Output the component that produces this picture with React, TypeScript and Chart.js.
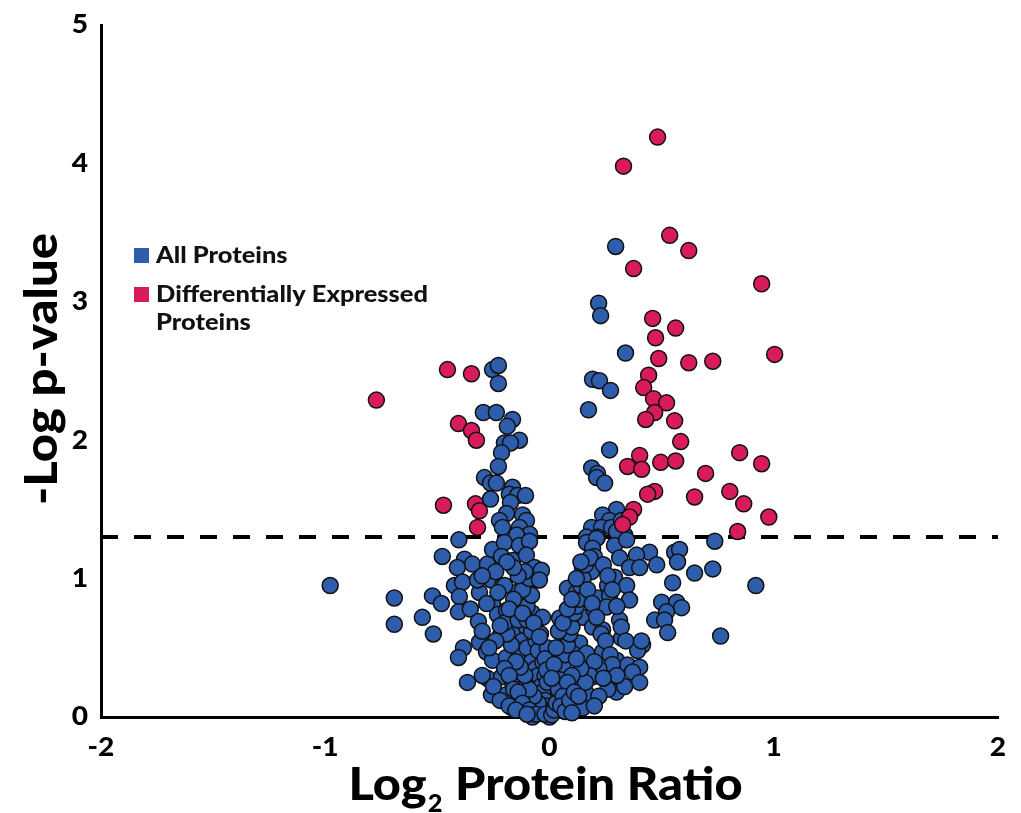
import { useEffect, useRef } from "react";
import { Chart, registerables } from "chart.js";

Chart.register(...registerables);

type Pt = [number, number];

// ---- axis / labels ----
const X_TICKS = [-2, -1, 0, 1, 2];
const Y_TICKS = [0, 1, 2, 3, 4, 5];
const THRESHOLD = 1.3;
const X_TITLE = ["Log", "2", " Protein Ratio"];
const Y_TITLE = "-Log p-value";
const LEGEND_LABELS = [["All Proteins"], ["Differentially Expressed", "Proteins"]];

// ---- differentially expressed proteins (log2 ratio, -log p) ----
const DE_LEFT: Pt[] = [
  [-0.772, 2.29], [-0.455, 2.51], [-0.348, 2.48], [-0.406, 2.12], [-0.348, 2.07],
  [-0.326, 2.0], [-0.473, 1.53], [-0.33, 1.54], [-0.3125, 1.49], [-0.321, 1.37],
];
const DE_RIGHT: Pt[] = [
  [0.482, 4.19], [0.33, 3.98], [0.536, 3.48], [0.621, 3.37], [0.375, 3.24], [0.946, 3.13],
  [0.46, 2.88], [0.5625, 2.81], [0.473, 2.74], [0.487, 2.59], [0.621, 2.56], [0.728, 2.57],
  [1.004, 2.62], [0.442, 2.47], [0.42, 2.38], [0.464, 2.3], [0.522, 2.27], [0.469, 2.2],
  [0.429, 2.15], [0.558, 2.14], [0.585, 1.99], [0.402, 1.89], [0.348, 1.81], [0.411, 1.79],
  [0.496, 1.84], [0.5625, 1.85], [0.696, 1.76], [0.848, 1.91], [0.946, 1.83], [0.469, 1.63],
  [0.4375, 1.61], [0.647, 1.59], [0.804, 1.63], [0.866, 1.54], [0.978, 1.445], [0.839, 1.34],
  [0.375, 1.5], [0.357, 1.445], [0.326, 1.39],
];

// ---- all proteins ----
const ALL_UPPER_RIGHT: Pt[] = [
  [0.295, 3.4], [0.219, 2.99], [0.228, 2.9], [0.339, 2.63], [0.192, 2.44], [0.223, 2.43],
  [0.272, 2.36], [0.174, 2.22], [0.268, 1.93], [0.188, 1.8], [0.214, 1.76], [0.21, 1.73],
  [0.246, 1.69], [0.299, 1.5], [0.237, 1.46], [0.268, 1.42], [0.188, 1.37], [0.232, 1.37],
  [0.277, 1.37], [0.321, 1.42], [0.165, 1.3], [0.214, 1.3], [0.335, 1.315], [0.299, 1.34],
  [0.737, 1.27],
];
const ALL_UPPER_LEFT: Pt[] = [
  [-0.254, 2.51], [-0.228, 2.54], [-0.228, 2.41], [-0.295, 2.2], [-0.237, 2.2], [-0.165, 2.15],
  [-0.188, 2.1], [-0.134, 2.0], [-0.201, 1.98], [-0.174, 1.98], [-0.214, 1.91], [-0.228, 1.81],
  [-0.29, 1.73], [-0.263, 1.69], [-0.237, 1.69], [-0.165, 1.66], [-0.179, 1.61], [-0.143, 1.6],
  [-0.107, 1.6], [-0.263, 1.575], [-0.174, 1.55], [-0.192, 1.47], [-0.12, 1.46], [-0.103, 1.42],
  [-0.223, 1.42], [-0.21, 1.37], [-0.134, 1.37], [-0.089, 1.32], [-0.404, 1.28], [-0.147, 1.315],
];
const ALL_LOWER_LEFT: Pt[] = [
  [-0.478, 1.16], [-0.379, 1.14], [-0.344, 1.105], [-0.277, 1.105], [-0.411, 1.08], [-0.254, 1.21],
  [-0.201, 1.26], [-0.134, 1.24], [-0.089, 1.27], [-0.214, 1.16], [-0.165, 1.13], [-0.103, 1.17],
  [-0.067, 1.08], [-0.058, 0.99], [-0.978, 0.95], [-0.692, 0.86], [-0.692, 0.67], [-0.522, 0.875],
  [-0.482, 0.82], [-0.567, 0.72], [-0.518, 0.6], [-0.424, 0.95], [-0.388, 0.975], [-0.402, 0.87],
  [-0.406, 0.76], [-0.353, 0.78], [-0.3125, 0.9], [-0.321, 0.99], [-0.259, 0.99], [-0.21, 0.95],
  [-0.147, 0.9], [-0.254, 0.82], [-0.317, 0.69], [-0.232, 0.74], [-0.192, 0.77], [-0.134, 0.76],
  [-0.076, 0.75], [-0.031, 0.72], [-0.384, 0.5], [-0.406, 0.43], [-0.3125, 0.54], [-0.281, 0.47],
  [-0.223, 0.58], [-0.165, 0.63], [-0.103, 0.65], [-0.058, 0.63], [-0.254, 0.41], [-0.192, 0.43],
  [-0.134, 0.46], [-0.076, 0.45], [-0.013, 0.43], [-0.277, 0.28], [-0.214, 0.29], [-0.165, 0.25],
  [-0.103, 0.25], [-0.366, 0.25], [-0.259, 0.16], [-0.192, 0.16], [-0.134, 0.12], [-0.076, 0.1],
  [-0.17, 0.07], [-0.134, 0.05], [-0.045, 0.03], [0.0, 0.0], [-0.076, 0.0],
];
const ALL_CORE_LEFT: Pt[] = [
  [-0.12, 0.55], [-0.1, 0.5], [-0.08, 0.4], [-0.06, 0.35], [-0.05, 0.3], [-0.04, 0.22],
  [-0.03, 0.18], [-0.02, 0.12], [-0.01, 0.08], [-0.03, 0.05], [-0.05, 0.1], [-0.07, 0.15],
  [-0.09, 0.2], [-0.11, 0.3], [-0.13, 0.36], [-0.15, 0.4], [-0.17, 0.52], [-0.19, 0.6],
  [-0.2, 0.68], [-0.14, 0.7], [-0.1, 0.8], [-0.08, 0.88], [-0.12, 0.92], [-0.16, 0.85],
  [-0.18, 0.78], [-0.22, 0.66], [-0.24, 0.55], [-0.27, 0.5], [-0.2, 0.35], [-0.18, 0.3],
  [-0.16, 0.2], [-0.14, 0.18], [-0.12, 0.1], [-0.09, 0.05], [-0.06, 0.02], [-0.04, 0.6],
  [-0.06, 0.55], [-0.08, 0.62], [-0.1, 0.7], [-0.12, 0.75], [-0.02, 0.3], [-0.01, 0.25],
  [-0.03, 0.4], [-0.05, 0.48], [-0.07, 0.68], [-0.09, 1.0], [-0.11, 1.05], [-0.14, 1.02],
  [-0.16, 1.08], [-0.19, 1.12], [-0.2, 0.95], [-0.23, 0.9], [-0.24, 1.05], [-0.3, 1.02],
  [-0.28, 0.82], [-0.3, 0.62], [-0.3, 0.3], [-0.25, 0.22], [-0.22, 0.12], [-0.18, 0.08],
  [-0.15, 0.05], [-0.1, 0.02], [-0.02, 0.02], [-0.01, 0.5], [-0.02, 0.42],
];
const ALL_LOWER_RIGHT: Pt[] = [
  [0.165, 1.26], [0.21, 1.29], [0.29, 1.24], [0.344, 1.28], [0.446, 1.19], [0.388, 1.17],
  [0.478, 1.1], [0.558, 1.19], [0.58, 1.21], [0.571, 1.12], [0.647, 1.04], [0.728, 1.07],
  [0.92, 0.95], [0.549, 0.97], [0.5, 0.83], [0.567, 0.83], [0.589, 0.79], [0.522, 0.76],
  [0.469, 0.7], [0.513, 0.7], [0.527, 0.61], [0.763, 0.585], [0.192, 1.22], [0.2, 1.16],
  [0.147, 1.08], [0.1875, 1.05], [0.3125, 1.15], [0.357, 1.08], [0.402, 1.08], [0.29, 1.01],
  [0.259, 0.95], [0.344, 0.95], [0.08, 0.93], [0.12, 0.9], [0.165, 0.87], [0.214, 0.86],
  [0.268, 0.88], [0.357, 0.845], [0.045, 0.715], [0.103, 0.715], [0.147, 0.72], [0.2, 0.77],
  [0.254, 0.795], [0.3125, 0.7], [0.192, 0.65], [0.237, 0.63], [0.321, 0.57], [0.076, 0.556],
  [0.134, 0.535], [0.415, 0.52], [0.393, 0.48], [0.045, 0.48], [0.103, 0.46], [0.165, 0.46],
  [0.237, 0.47], [0.299, 0.41], [0.348, 0.376], [0.402, 0.36], [0.37, 0.325], [0.402, 0.25],
  [0.299, 0.18], [0.335, 0.22], [0.254, 0.29], [0.192, 0.29], [0.134, 0.25], [0.076, 0.22],
  [0.165, 0.17], [0.112, 0.1], [0.147, 0.065], [0.045, 0.145], [0.01, 0.015], [-0.013, 0.34],
  [-0.045, 0.58], [-0.036, 1.06], [-0.045, 0.99],
];
const ALL_CORE_RIGHT: Pt[] = [
  [0.02, 0.05], [0.03, 0.1], [0.04, 0.2], [0.05, 0.3], [0.06, 0.38], [0.07, 0.45],
  [0.08, 0.52], [0.09, 0.6], [0.1, 0.65], [0.11, 0.75], [0.12, 0.8], [0.13, 0.85],
  [0.14, 0.95], [0.15, 1.0], [0.16, 1.1], [0.18, 1.15], [0.17, 0.92], [0.19, 0.82],
  [0.21, 0.72], [0.23, 0.6], [0.25, 0.55], [0.27, 0.45], [0.28, 0.38], [0.22, 0.35],
  [0.2, 0.4], [0.18, 0.3], [0.16, 0.25], [0.14, 0.35], [0.12, 0.42], [0.1, 0.3],
  [0.08, 0.25], [0.06, 0.15], [0.05, 0.08], [0.07, 0.04], [0.09, 0.12], [0.11, 0.18],
  [0.13, 0.15], [0.02, 0.38], [0.03, 0.5], [0.01, 0.28], [0.04, 0.62], [0.06, 0.68],
  [0.08, 0.78], [0.1, 0.85], [0.12, 1.0], [0.14, 1.12], [0.24, 1.1], [0.26, 1.02],
  [0.28, 0.92], [0.3, 0.8], [0.32, 0.65], [0.34, 0.55], [0.41, 0.55], [0.3, 0.3],
  [0.26, 0.2], [0.22, 0.15], [0.2, 0.08], [0.1, 0.03], [0.24, 0.28],
];

const BLUE = "#2E5DAB";
const RED = "#D81B5C";
const FONT = "Lato, 'Open Sans', sans-serif";

const toXY = (arr: Pt[]) => arr.map(([x, y]) => ({ x, y }));

const overlayPlugin = {
  id: "overlayText",
  afterDraw(chart: any) {
    const { ctx, chartArea, scales } = chart;
    ctx.save();
    ctx.fillStyle = "#000";
    ctx.textAlign = "left";
    ctx.textBaseline = "alphabetic";

    // tick labels (heavy weight), positioned through the scales
    ctx.font = `900 26px ${FONT}`;
    ctx.textBaseline = "middle";
    Y_TICKS.forEach((v) => {
      const y = scales.y.getPixelForValue(v);
      ctx.save();
      ctx.translate(chartArea.left - 13, y);
      ctx.scale(1.08, 1);
      ctx.textAlign = "right";
      ctx.fillText(String(v), 0, 0);
      ctx.restore();
    });
    X_TICKS.forEach((v) => {
      const x = scales.x.getPixelForValue(v);
      ctx.save();
      ctx.translate(x, chartArea.bottom + 31);
      ctx.scale(1.08, 1);
      ctx.textAlign = "center";
      ctx.fillText(String(v), 0, 0);
      ctx.restore();
    });
    ctx.textBaseline = "alphabetic";
    ctx.textAlign = "left";

    // x-axis title with subscript
    const big = `900 46px ${FONT}`;
    const small = `900 24px ${FONT}`;
    ctx.font = big;
    const w1 = ctx.measureText(X_TITLE[0]).width;
    const w3 = ctx.measureText(X_TITLE[2]).width;
    ctx.font = small;
    const w2 = ctx.measureText(X_TITLE[1]).width + 2;
    const total = w1 + w2 + w3;
    const targetW = 394;
    const sx = targetW / total;
    const cx = (chartArea.left + chartArea.right) / 2 - 4;
    ctx.save();
    ctx.translate(cx - targetW / 2, 800);
    ctx.scale(sx, 1);
    ctx.font = big;
    ctx.fillText(X_TITLE[0], 0, 0);
    ctx.font = small;
    ctx.fillText(X_TITLE[1], w1 + 1, 12);
    ctx.font = big;
    ctx.fillText(X_TITLE[2], w1 + w2, 0);
    ctx.restore();

    // y-axis title
    ctx.save();
    ctx.font = big;
    const wy = ctx.measureText(Y_TITLE).width;
    const targetH = 272;
    ctx.translate(57, (chartArea.top + chartArea.bottom) / 2 - 2);
    ctx.rotate(-Math.PI / 2);
    ctx.scale(targetH / wy, 1);
    ctx.textAlign = "center";
    ctx.fillText(Y_TITLE, 0, 0);
    ctx.restore();

    // legend
    const colors = [BLUE, RED];
    const rowsBase = [263, 302];
    ctx.font = `900 22px ${FONT}`;
    const refW = ctx.measureText(LEGEND_LABELS[1][0]).width;
    const ls = 272 / refW;
    LEGEND_LABELS.forEach((lines, i) => {
      const base = rowsBase[i];
      ctx.fillStyle = colors[i];
      ctx.fillRect(134, base - 15, 15, 15);
      ctx.fillStyle = "#111";
      lines.forEach((t, j) => {
        ctx.save();
        ctx.translate(156, base + j * 28);
        ctx.scale(ls, 1);
        ctx.fillText(t, 0, 0);
        ctx.restore();
      });
    });
    ctx.restore();
  },
};

export default function App() {
  const ref = useRef<HTMLCanvasElement>(null);
  useEffect(() => {
    if (!ref.current) return;
    const pointStyle = {
      pointRadius: 8,
      pointHoverRadius: 8,
      borderWidth: 1.5,
      borderColor: "#111",
      clip: false as any,
    };
    const chart = new Chart(ref.current, {
      type: "scatter",
      data: {
        datasets: [
          {
            type: "line",
            label: "threshold",
            data: [
              { x: X_TICKS[0], y: THRESHOLD },
              { x: X_TICKS[X_TICKS.length - 1], y: THRESHOLD },
            ],
            borderColor: "#000",
            borderWidth: 4,
            borderDash: [17, 16],
            pointRadius: 0,
            fill: false,
            order: 3,
          } as any,
          {
            label: LEGEND_LABELS[0].join(" "),
            data: toXY([
              ...ALL_UPPER_LEFT,
              ...ALL_UPPER_RIGHT,
              ...ALL_LOWER_LEFT,
              ...ALL_CORE_LEFT,
              ...ALL_LOWER_RIGHT,
              ...ALL_CORE_RIGHT,
            ]),
            backgroundColor: BLUE,
            order: 2,
            ...pointStyle,
          },
          {
            label: LEGEND_LABELS[1].join(" "),
            data: toXY([...DE_LEFT, ...DE_RIGHT]),
            backgroundColor: RED,
            order: 1,
            ...pointStyle,
          },
        ],
      },
      options: {
        animation: false,
        responsive: false,
        devicePixelRatio: 1,
        layout: { padding: { top: 25, right: 23, left: 0, bottom: 0 } },
        plugins: { legend: { display: false }, tooltip: { enabled: false } },
        scales: {
          x: {
            type: "linear",
            min: X_TICKS[0],
            max: X_TICKS[X_TICKS.length - 1],
            afterBuildTicks: (s: any) => {
              s.ticks = X_TICKS.map((v) => ({ value: v }));
            },
            afterFit: (s: any) => {
              s.height = 96;
            },
            ticks: { display: false },
            grid: { display: false, drawTicks: false },
            border: { display: true, color: "#000", width: 3 },
          },
          y: {
            type: "linear",
            min: Y_TICKS[0],
            max: Y_TICKS[Y_TICKS.length - 1],
            afterBuildTicks: (s: any) => {
              s.ticks = Y_TICKS.map((v) => ({ value: v }));
            },
            afterFit: (s: any) => {
              s.width = 101;
            },
            ticks: { display: false },
            grid: { display: false, drawTicks: false },
            border: { display: true, color: "#000", width: 3 },
          },
        },
      },
      plugins: [overlayPlugin],
    });
    return () => chart.destroy();
  }, []);
  return (
    <div style={{ position: "absolute", left: 0, top: 0, width: 1021, height: 813, background: "#fff" }}>
      <canvas ref={ref} width={1021} height={813} style={{ width: 1021, height: 813, display: "block" }} />
    </div>
  );
}
